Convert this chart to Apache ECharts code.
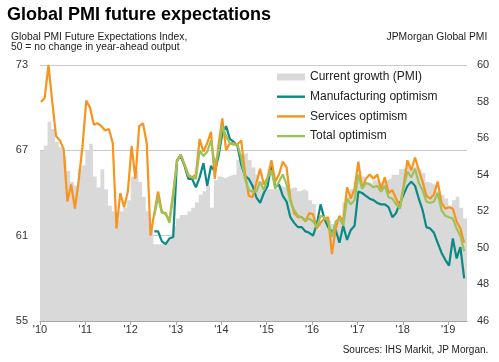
<!DOCTYPE html>
<html>
<head>
<meta charset="utf-8">
<script src="https://cdn.jsdelivr.net/npm/echarts@6/dist/echarts.min.js"></script>
<style>html,body{margin:0;padding:0;background:#fff}#c{width:499px;height:362px}</style>
</head>
<body>
<div id="c"></div>
<script>
// ---- data (monthly, Jan 2010 = month 0, last = May 2019) ----
const startYear = 2010;
const yearTicks = [2010, 2011, 2012, 2013, 2014, 2015, 2016, 2017, 2018, 2019];
const yearLabels = ["'10", "'11", "'12", "'13", "'14", "'15", "'16", "'17", "'18", "'19"];
const leftTicks = [55, 61, 67, 73];
const rightTicks = [46, 48, 50, 52, 54, 56, 58, 60];

// JPMorgan Global PMI (right axis), Jan 2010 - May 2019
const pmi = [
  55.3, 55.6, 56.9, 56.5, 55.8, 55.5, 55.0, 54.2, 53.6, 53.4, 54.3, 54.5,
  55.3, 55.7, 53.9, 53.3, 54.3, 53.2, 52.3, 52.0, 51.5, 52.0, 52.2, 52.6,
  53.9, 54.2, 53.6, 52.8, 52.0, 51.1, 50.2, 50.2, 50.2, 50.3, 50.5, 51.2,
  51.6, 51.8, 51.8, 52.0, 52.2, 52.5, 52.9, 53.1, 53.4, 52.2, 53.7, 53.9,
  53.8, 53.9, 54.0, 54.0, 54.8, 55.1, 55.2, 54.8, 54.4, 54.0, 53.6, 53.4,
  53.2, 53.2, 53.2, 53.4, 53.3, 53.2, 53.3, 53.3, 53.1, 53.2, 53.1, 52.6,
  52.4, 51.0, 51.5, 51.6, 51.5, 51.3, 51.4, 51.6, 52.5, 52.8, 53.2, 53.6,
  53.7, 53.9, 53.6, 53.5, 53.7, 53.6, 53.5, 53.7, 53.8, 54.0, 54.0, 54.3,
  54.4, 54.6, 54.4, 54.5, 54.3, 54.1, 53.6, 53.5, 53.4, 53.1, 52.9, 52.7,
  52.3, 52.6, 52.8, 52.2, 51.6
];

// Services optimism (left axis), Jan 2010 - May 2019
const services = [
  70.4, 70.7, 73.0, 70.4, 68.0, 67.7, 67.1, 63.4, 64.6, 62.9, 64.9, 67.3,
  70.5, 70.0, 68.8, 68.9, 68.7, 68.4, 68.5, 67.5, 61.5, 64.0, 63.0, 64.1,
  67.3, 65.0, 68.7, 68.9, 67.5, 61.0, 62.6, 64.1, 62.7, 62.5, 62.1, 64.0,
  66.3, 66.7, 66.0, 65.2, 65.1, 65.3, 67.8, 66.9, 67.5, 68.3, 65.0, 67.4,
  69.25, 67.0, 67.5, 67.5, 67.4, 67.7, 65.4, 63.8, 63.7, 64.7, 65.7, 64.6,
  65.1, 66.3, 64.8, 65.3, 66.2, 65.8, 63.6, 62.6, 62.3, 62.3, 62.0, 62.6,
  62.5, 61.5, 61.9, 62.2, 62.3, 59.7, 61.5, 62.4, 62.0, 64.4, 63.6, 64.3,
  66.2, 64.3, 65.0, 65.3, 65.0, 65.3, 64.3, 65.1, 64.0, 64.2, 63.6, 63.0,
  64.6, 66.3, 65.6, 66.5, 65.6, 64.8, 63.8, 63.6, 63.9, 64.8, 63.3, 62.9,
  63.0, 62.9, 62.0, 61.5, 60.5
];

// Manufacturing and total optimism start in Jul 2012 (month 30)
const optimismStart = 30;
const manufacturing = [
  61.3, 61.3, 60.6, 60.4, 60.8, 60.9,
  66.3, 66.6, 65.9, 65.0, 65.0, 64.4, 65.1, 66.1, 64.5, 65.9, 65.5, 66.6,
  68.2, 68.7, 67.8, 67.6, 67.3, 66.0, 65.2, 65.0, 64.5, 63.7, 63.3, 64.0,
  64.5, 66.1, 64.4, 64.6, 63.8, 63.4, 62.3, 61.9, 61.6, 61.6, 61.3, 61.2,
  61.0, 61.8, 63.2, 62.2, 61.6, 61.3, 61.4, 60.5, 61.7, 60.7, 61.4, 61.7,
  64.1, 64.0, 63.8, 63.6, 63.5, 63.3, 63.2, 63.2, 63.0, 62.3, 62.6, 63.3,
  63.9, 64.5, 64.8, 64.5, 63.6, 62.8, 61.6, 61.5, 61.2, 60.5, 59.8, 59.3,
  58.9, 60.8, 59.4, 60.2, 58.0
];
const total = [
  62.4, 63.7, 62.6, 62.6, 61.9, 63.8,
  66.2, 66.7, 66.0, 65.3, 65.1, 65.0, 67.0, 66.6, 66.9, 67.7, 66.0, 66.9,
  68.7, 68.0, 67.5, 67.4, 67.4, 66.5, 65.0, 64.2, 64.1, 64.1, 64.8, 64.2,
  65.1, 65.6, 64.3, 64.8, 65.3, 64.6, 63.4, 62.8, 62.4, 62.3, 62.1, 62.2,
  62.0, 61.6, 62.4, 62.3, 62.0, 60.9, 62.0, 62.2, 61.7, 63.6, 63.2, 63.5,
  65.3, 64.3, 64.7, 64.6, 64.4, 64.5, 64.1, 64.5, 63.7, 63.6, 63.2, 62.9,
  64.4, 65.5, 65.1, 65.7, 64.7, 64.2, 63.4, 63.3, 63.4, 64.0, 62.8, 62.4,
  62.3, 62.2, 61.5, 61.0, 59.9
];

const seriesNames = ['Current growth (PMI)', 'Manufacturing optimism', 'Services optimism', 'Total optimism'];
const colors = { pmi: '#d9d9d9', manu: '#0a8a86', serv: '#f7941d', total: '#9dc25a' };

// ---- build ----
const monthStart = m => startYear + m / 12;
const monthPoint = m => startYear + (m + 0.25) / 12;
const pmiData = pmi.map((v, m) => [monthStart(m), v]);
pmiData.push([monthStart(pmi.length), pmi[pmi.length - 1]]);
const servData = services.map((v, m) => [monthPoint(m), v]);
const manuData = manufacturing.map((v, i) => [monthPoint(i + optimismStart), v]);
const totalData = total.map((v, i) => [monthPoint(i + optimismStart), v]);

const FONT = "'Liberation Sans', Arial, Helvetica, sans-serif";
const chart = echarts.init(document.getElementById('c'), null, { renderer: 'canvas' });

const lineSeries = (name, data, color) => ({
  name, type: 'line', yAxisIndex: 0, data,
  symbol: 'none', showSymbol: false, smooth: false,
  lineStyle: { color, width: 2.2 },
  itemStyle: { color },
  z: 3
});

chart.setOption({
  animation: false,
  backgroundColor: '#fff',
  textStyle: { fontFamily: FONT },
  title: [
    { text: 'Global PMI future expectations', left: 7, top: 6, padding: 0,
      textStyle: { fontSize: 18, fontWeight: 'bold', color: '#000', fontFamily: FONT } },
    { text: 'Global PMI Future Expectations Index,\n50 = no change in year-ahead output', left: 11, top: 32.5, padding: 0,
      textStyle: { fontSize: 10.3, lineHeight: 9.6, fontWeight: 'normal', color: '#222', fontFamily: FONT } },
    { text: 'JPMorgan Global PMI', right: 11.7, top: 32.5, padding: 0,
      textStyle: { fontSize: 10.3, lineHeight: 9.6, fontWeight: 'normal', color: '#222', fontFamily: FONT } },
    { text: 'Sources: IHS Markit, JP Morgan.', right: 10.7, top: 345.5, padding: 0,
      textStyle: { fontSize: 10, fontWeight: 'normal', color: '#222', fontFamily: FONT } }
  ],
  legend: {
    orient: 'vertical', left: 277, top: 71, padding: 0, itemGap: 7.7,
    itemWidth: 28, itemHeight: 7, itemStyle: { borderWidth: 0 },
    selectedMode: false,
    textStyle: { fontSize: 12, color: '#222', fontFamily: FONT },
    data: [
      { name: seriesNames[0], icon: 'rect' },
      { name: seriesNames[1], icon: 'path://M0,0H28V2.4H0Z' },
      { name: seriesNames[2], icon: 'path://M0,0H28V2.4H0Z' },
      { name: seriesNames[3], icon: 'path://M0,0H28V2.4H0Z' }
    ]
  },
  grid: { left: 40, right: 32, top: 65, bottom: 41 },
  xAxis: {
    type: 'value', min: startYear, max: monthStart(pmi.length), interval: 1,
    axisLine: { show: true, lineStyle: { color: '#a6a6a6', width: 1 } },
    axisTick: { show: true, length: 4, customValues: yearTicks, lineStyle: { color: '#a6a6a6' } },
    axisLabel: {
      customValues: yearTicks, margin: 3, fontSize: 11, color: '#333', fontFamily: FONT,
      formatter: v => { const i = yearTicks.indexOf(Math.round(v)); return i >= 0 ? yearLabels[i] : ''; }
    },
    splitLine: { show: false }
  },
  yAxis: [
    { type: 'value', position: 'left', min: leftTicks[0], max: leftTicks[leftTicks.length - 1], interval: 6,
      axisLine: { show: false }, axisTick: { show: false },
      axisLabel: { margin: 12, fontSize: 11, color: '#333', fontFamily: FONT },
      splitLine: { show: true, lineStyle: { color: '#c9c9c9', width: 1 } } },
    { type: 'value', position: 'right', min: rightTicks[0], max: rightTicks[rightTicks.length - 1], interval: 2,
      axisLine: { show: false }, axisTick: { show: false },
      axisLabel: { margin: 10, fontSize: 11, color: '#333', fontFamily: FONT },
      splitLine: { show: false } }
  ],
  series: [
    { name: seriesNames[0], type: 'line', yAxisIndex: 1, step: 'end', data: pmiData,
      symbol: 'none', showSymbol: false,
      lineStyle: { width: 0, color: colors.pmi },
      itemStyle: { color: colors.pmi },
      areaStyle: { color: colors.pmi, opacity: 1, origin: 'start' },
      z: 1 },
    lineSeries(seriesNames[1], manuData, colors.manu),
    lineSeries(seriesNames[2], servData, colors.serv),
    lineSeries(seriesNames[3], totalData, colors.total)
  ]
});
</script>
</body>
</html>
